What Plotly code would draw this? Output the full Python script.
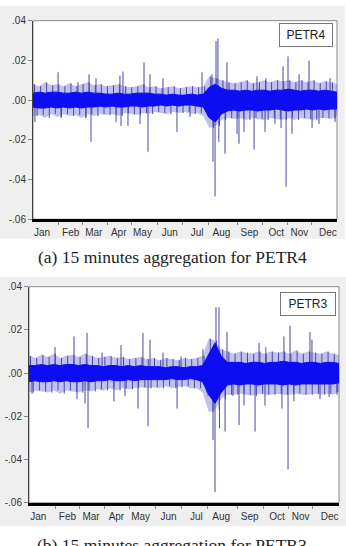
import plotly.graph_objects as go

# ---------------- data ----------------
# x axis = trading-day index within the year (0..250)
month_names = ["Jan", "Feb", "Mar", "Apr", "May", "Jun", "Jul", "Aug", "Sep", "Oct", "Nov", "Dec"]
month_label_pos = [7.5, 31, 50, 70.5, 90, 112.5, 135, 155, 178, 200, 219, 242.5]
month_starts = [21, 41, 61, 81, 102, 123, 144, 168, 189, 209, 229]

y_tickvals = [0.04, 0.02, 0.0, -0.02, -0.04, -0.06]
y_ticktext = [".04", ".02", ".00", "-.02", "-.04", "-.06"]

week_days = list(range(0, 251, 5))

# PETR4 (values in 1e-3 units): dense core band and fringe of ordinary moves
p4_core_hi = [3.5, 4.0, 3.5, 4.0, 4.0, 3.5, 3.5, 4.0, 3.5, 4.0, 3.5, 3.5, 3.0, 3.0, 3.5, 3.0, 3.0, 3.5, 3.5, 3.5,
              3.0, 3.0, 2.5, 3.0, 2.5, 2.5, 3.0, 2.5, 3.0, 6.5, 8.0, 6.0, 5.0, 5.0, 4.5, 5.0, 4.5, 5.0, 5.0, 4.5,
              5.0, 5.0, 5.5, 5.0, 4.5, 5.0, 5.0, 4.5, 5.0, 4.5, 4.0]
p4_core_lo = [-3.5, -4.0, -4.0, -3.5, -4.0, -3.5, -4.0, -3.5, -4.0, -3.5, -3.5, -3.0, -3.5, -3.0, -3.5, -3.5, -3.0,
              -3.0, -3.5, -3.0, -3.0, -2.5, -3.0, -2.5, -3.0, -2.5, -2.5, -3.0, -3.5, -9.0, -11.0, -7.0, -5.5, -5.0,
              -5.5, -5.0, -5.0, -5.5, -5.0, -5.0, -4.5, -5.0, -5.5, -5.0, -5.0, -4.5, -5.0, -4.5, -5.0, -4.5, -4.5]
p4_fringe_hi = [8, 7, 9, 7.5, 8, 7, 8.5, 7, 8, 9, 7.5, 8, 7, 7.5, 8, 7, 6.5, 7, 8, 6.5, 7, 6, 6.5, 7, 6, 6.5, 7,
                6.5, 7, 12, 11, 10, 9, 8.5, 9, 10, 8.5, 9, 10, 9, 10, 9.5, 10, 9, 10, 9, 10, 8.5, 9.5, 9, 8]
p4_fringe_lo = [-8, -7.5, -9, -7, -8.5, -7, -8, -7.5, -9, -7, -8, -7, -7.5, -7, -8, -6.5, -7, -7.5, -6.5, -7, -6,
                -6.5, -7, -6, -6.5, -6, -7, -6.5, -8, -14, -13, -10, -9, -9.5, -9, -10, -9, -9.5, -10, -9, -9.5,
                -10, -9, -10, -9, -9.5, -10, -9, -9, -9.5, -8]
# PETR4 large individual moves: day, return
p4_spike_day = [1.6, 20.6, 23.0, 37.0, 43.6, 46.1, 47.7, 51.8, 68.3, 71.5, 72.4, 74.0, 78.1, 88.0, 91.3, 94.6,
                96.2, 106.9, 118.4, 129.1, 139.0, 147.2, 148.0, 149.7, 150.5, 152.1, 152.8, 157.9, 159.5, 167.8,
                169.4, 173.5, 181.8, 184.2, 190.8, 191.5, 199.0, 204.0, 205.6, 208.1, 209.7, 213.0, 218.8, 227.0,
                229.5, 235.2, 244.3, 248.4]
p4_spike_val = [-0.011, 0.014, -0.009, 0.009, -0.009, 0.013, -0.021, 0.011, -0.011, 0.0124, -0.013, 0.0144,
                -0.013, -0.012, 0.019, -0.026, 0.013, 0.011, -0.016, -0.0085, 0.014, 0.013, -0.031, -0.0485,
                0.0297, 0.031, -0.021, -0.027, 0.019, -0.017, -0.022, -0.016, -0.025, 0.012, -0.016, 0.011,
                -0.012, -0.014, 0.017, -0.0436, 0.022, -0.017, 0.013, 0.0198, -0.014, -0.012, 0.011, -0.011]

# PETR3
p3_core_hi = [3.5, 3.5, 4, 3.5, 4, 3.5, 4, 4, 3.5, 4, 3.5, 3.5, 3, 3.5, 3.5, 3, 3.5, 3, 3.5, 3, 3, 3, 2.5, 3, 3,
              2.5, 3, 3, 3.5, 9, 14, 8, 5, 5, 5, 4.5, 5, 5, 4.5, 5, 5, 5.5, 5, 5, 4.5, 5, 5, 4.5, 5, 5, 4.5]
p3_core_lo = [-4, -3.5, -4, -4, -3.5, -4, -3.5, -4, -4, -3.5, -4, -3.5, -3.5, -3, -3.5, -3.5, -3, -3.5, -3, -3,
              -3, -3, -3, -2.5, -3, -3, -2.5, -3, -4, -10, -14, -9, -5.5, -5, -5.5, -5, -5, -5.5, -5, -5, -5,
              -5.5, -5, -5.5, -5, -5, -5, -5, -5, -5, -4.5]
p3_fringe_hi = [8, 7, 8.5, 7.5, 9, 7, 8, 8.5, 7.5, 9, 8, 7, 7.5, 8, 7, 7.5, 6.5, 7, 7.5, 6.5, 7, 6, 7, 6.5, 6, 7,
                6.5, 7, 8, 16, 15, 11, 10, 9, 10, 9.5, 9, 10, 9, 10, 9.5, 10, 9, 10.5, 9, 10, 9.5, 9, 10, 9, 8.5]
p3_fringe_lo = [-9, -8, -8.5, -9, -8, -9.5, -8, -8.5, -9, -8, -8.5, -7.5, -8, -7, -8, -7, -7.5, -7, -6.5, -7,
                -6.5, -7, -6, -7, -6.5, -6, -7, -7, -9, -18, -17, -12, -10, -10, -9.5, -10, -10.5, -9.5, -10,
                -10, -9.5, -10, -10, -9.5, -10, -10, -9.5, -10, -9.5, -10, -9]
p3_spike_day = [2.4, 21.0, 36.3, 38.7, 45.2, 46.8, 47.6, 58.9, 68.5, 74.2, 77.4, 87.9, 91.9, 96.0, 97.6, 108.1,
                119.4, 122.6, 140.3, 144.4, 148.4, 150.0, 150.8, 153.2, 153.6, 158.1, 159.7, 164.5, 169.4, 173.4,
                182.3, 185.5, 190.3, 191.0, 204.0, 205.6, 208.9, 210.5, 213.7, 226.6, 228.2, 234.7, 242.0, 248.4]
p3_spike_val = [-0.0095, 0.012, 0.017, -0.012, -0.014, 0.0186, -0.0255, 0.0095, -0.013, 0.013, -0.0105,
                -0.0164, 0.0186, -0.0245, 0.0155, 0.0095, -0.0164, 0.0077, 0.011, -0.0105, -0.031, -0.055,
                0.0305, 0.0305, -0.0255, -0.027, 0.019, -0.0105, -0.024, -0.015, -0.027, 0.014, -0.015, 0.012,
                -0.0164, 0.017, -0.0445, 0.022, -0.013, 0.019, 0.0155, -0.012, -0.011, -0.0086]

# ---------------- figure ----------------
W, H = 346, 546
fig = go.Figure()

SPIKE_COLOR = "rgb(72,72,165)"
HALO_COLOR = "rgba(50,50,200,0.30)"
CORE_COLOR = "#0d0df2"


def add_panel(xa, ya, core_hi, core_lo, fr_hi, fr_lo, sp_day, sp_val):
    # halo of ordinary moves around the core
    fig.add_trace(go.Scatter(x=week_days, y=[v * 1e-3 for v in fr_lo], mode="lines", xaxis=xa, yaxis=ya,
                             line=dict(width=0), hoverinfo="skip", showlegend=False))
    fig.add_trace(go.Scatter(x=week_days, y=[v * 1e-3 for v in fr_hi], mode="lines", xaxis=xa, yaxis=ya,
                             fill="tonexty", fillcolor=HALO_COLOR,
                             line=dict(width=0), hoverinfo="skip", showlegend=False))
    # fringe + spikes as vertical strokes from zero
    xs, ys = [], []
    for d, v in zip(week_days, fr_hi):
        xs += [d + 1.2, d + 1.2, None]
        ys += [0, v * 1e-3, None]
    for d, v in zip(week_days, fr_lo):
        xs += [d + 3.4, d + 3.4, None]
        ys += [0, v * 1e-3, None]
    for d, v in zip(sp_day, sp_val):
        xs += [d, d, None]
        ys += [0, v, None]
    fig.add_trace(go.Scatter(x=xs, y=ys, mode="lines", xaxis=xa, yaxis=ya,
                             line=dict(color=SPIKE_COLOR, width=1), hoverinfo="skip", showlegend=False))
    # dense core band
    fig.add_trace(go.Scatter(x=week_days, y=[v * 1e-3 for v in core_lo], mode="lines", xaxis=xa, yaxis=ya,
                             line=dict(color=CORE_COLOR, width=1), hoverinfo="skip", showlegend=False))
    fig.add_trace(go.Scatter(x=week_days, y=[v * 1e-3 for v in core_hi], mode="lines", xaxis=xa, yaxis=ya,
                             fill="tonexty", fillcolor=CORE_COLOR,
                             line=dict(color=CORE_COLOR, width=1), hoverinfo="skip", showlegend=False))


add_panel("x", "y", p4_core_hi, p4_core_lo, p4_fringe_hi, p4_fringe_lo, p4_spike_day, p4_spike_val)
add_panel("x2", "y2", p3_core_hi, p3_core_lo, p3_fringe_hi, p3_fringe_lo, p3_spike_day, p3_spike_val)

TICKFONT = dict(family="Liberation Sans, Arial, sans-serif", size=10, color="#333333")


def xaxis_cfg(dom):
    return dict(domain=dom, range=[0, 250], showgrid=False, zeroline=False,
                tickmode="array", tickvals=month_label_pos, ticktext=month_names, ticks="",
                tickfont=TICKFONT, showline=True, linecolor="black", linewidth=3,
                minor=dict(tickmode="array", tickvals=month_starts, ticks="outside", ticklen=3,
                           tickcolor="#888888", tickwidth=1),
                ticklabelstandoff=2, fixedrange=True)


def yaxis_cfg(dom, anchor):
    return dict(domain=dom, range=[-0.06, 0.04], showgrid=False, zeroline=False, anchor=anchor,
                tickmode="array", tickvals=y_tickvals, ticktext=y_ticktext, ticks="outside",
                ticklen=4, tickcolor="#888888", tickfont=TICKFONT, showline=True,
                linecolor="#444444", linewidth=1, fixedrange=True)


fig.update_layout(
    width=W, height=H, margin=dict(l=0, r=0, t=0, b=0),
    paper_bgcolor="white", plot_bgcolor="white", showlegend=False,
    xaxis=xaxis_cfg([33 / W, 337 / W]),
    yaxis=yaxis_cfg([1 - 218 / H, 1 - 15 / H], "x"),
    xaxis2=dict(xaxis_cfg([29 / W, 339 / W]), anchor="y2"),
    yaxis2=yaxis_cfg([1 - 508 / H, 1 - 287 / H], "x2"),
)

shapes = [
    dict(type="rect", xref="paper", yref="paper", x0=0, x1=345 / W, y0=1 - 238 / H, y1=1,
         fillcolor="#efefef", line=dict(width=0), layer="below"),
    dict(type="rect", xref="paper", yref="paper", x0=0, x1=1, y0=1 - 532 / H, y1=1 - 277 / H,
         fillcolor="#efefef", line=dict(width=0), layer="below"),
    dict(type="rect", xref="x domain", yref="y domain", x0=0, x1=1, y0=0, y1=1,
         fillcolor="white", line=dict(color="#8a8a8a", width=1), layer="below"),
    dict(type="rect", xref="x2 domain", yref="y2 domain", x0=0, x1=1, y0=0, y1=1,
         fillcolor="white", line=dict(color="#8a8a8a", width=1), layer="below"),
]
fig.update_layout(shapes=shapes)

LEGFONT = dict(family="Liberation Sans, Arial, sans-serif", size=12, color="#222222")
CAPFONT = dict(family="Liberation Serif, Times New Roman, serif", size=17.5, color="#222222")
fig.add_annotation(text="PETR4", xref="x domain", yref="y domain", x=0.987, y=0.99,
                   xanchor="right", yanchor="top", showarrow=False, font=LEGFONT,
                   bgcolor="white", bordercolor="#777777", borderwidth=1, borderpad=3, width=46, height=16)
fig.add_annotation(text="PETR3", xref="x2 domain", yref="y2 domain", x=0.99, y=0.977,
                   xanchor="right", yanchor="top", showarrow=False, font=LEGFONT,
                   bgcolor="white", bordercolor="#777777", borderwidth=1, borderpad=3, width=48, height=16)
fig.add_annotation(text="(a) 15 minutes aggregation for PETR4", xref="paper", yref="paper",
                   x=172 / W, y=1 - 257 / H, xanchor="center", yanchor="middle", showarrow=False,
                   font=CAPFONT)
fig.add_annotation(text="(b) 15 minutes aggregation for PETR3", xref="paper", yref="paper",
                   x=172 / W, y=1 - 551 / H, xanchor="center", yanchor="middle", showarrow=False,
                   font=CAPFONT)

fig.write_html("out.html")
